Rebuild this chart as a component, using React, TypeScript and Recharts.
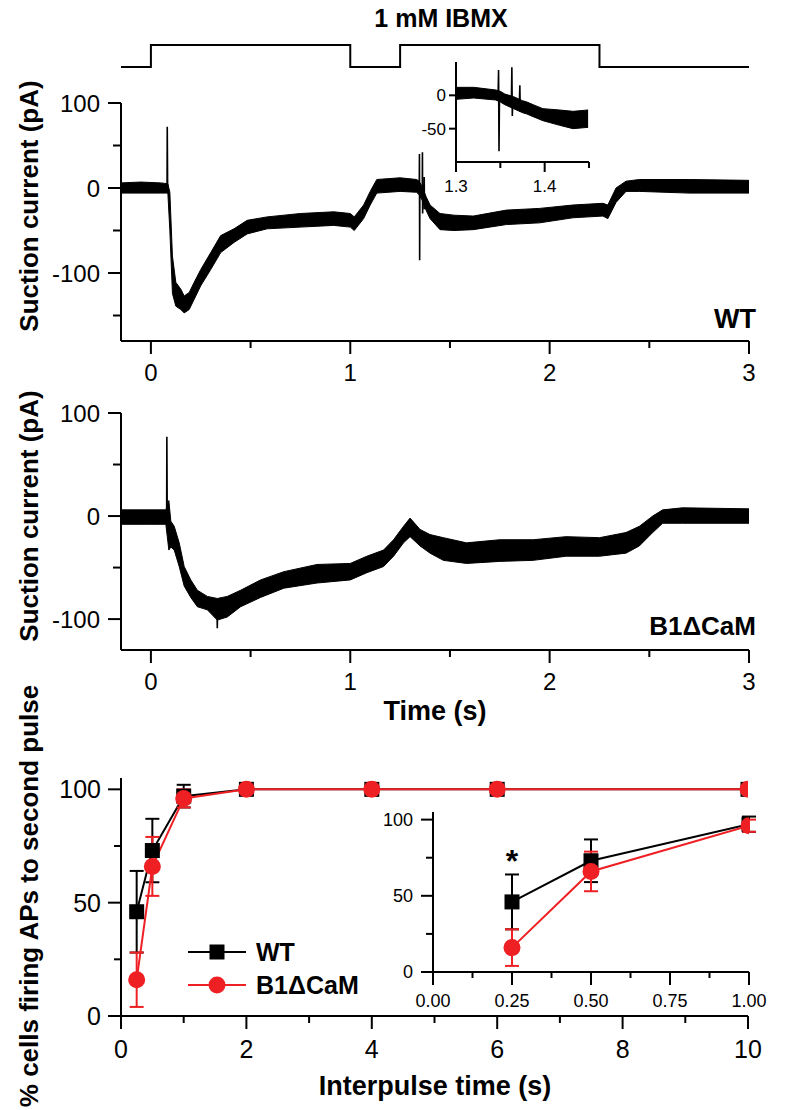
import React from 'react';
import {
  ComposedChart,
  LineChart,
  Line,
  Area,
  XAxis,
  YAxis,
  ErrorBar,
  ReferenceDot,
  Legend,
} from 'recharts';

const FONT = '"Liberation Sans", Arial, Helvetica, sans-serif';
const RED = '#ee2024';

// ---------- Stimulus (1 mM IBMX) ----------
const stimTime = [-0.15, 0, 1, 1.25, 2.25, 3];
const stimLevel = [0, 1, 0, 1, 0, 0];

// ---------- WT suction current (noise envelope) ----------
const wtTime = [-0.15, -0.05, 0.05, 0.085, 0.095, 0.108, 0.125, 0.15, 0.167, 0.192, 0.217, 0.25, 0.3, 0.35, 0.417, 0.483, 0.583, 0.75, 0.917, 1.0, 1.02, 1.067, 1.1, 1.133, 1.25, 1.333, 1.345, 1.36, 1.38, 1.4, 1.45, 1.52, 1.617, 1.783, 1.95, 2.117, 2.267, 2.292, 2.333, 2.383, 2.45, 2.7, 3.0];
const wtLow = [-6, -6, -6, -6, -50, -124, -139, -143, -147, -143, -131, -115, -96, -76, -64, -54, -48, -46, -44, -46, -50, -36, -20, -6, -4, -5, -8, -14, -26, -36, -49, -50, -49, -43, -41, -35, -33, -36, -17, -4, -4, -6, -6];
const wtHigh = [6, 7, 6, 5, -5, -80, -111, -119, -127, -123, -111, -96, -76, -56, -48, -38, -34, -30, -28, -30, -34, -20, -4, 10, 12, 10, 8, 2, -10, -20, -30, -32, -33, -26, -24, -20, -18, -20, 0, 8, 10, 10, 9];
// WT spikes (null separates spikes)
const wtSpikeTime = [0.081, 0.082, 0.084, 0.0845, 1.346, 1.347, 1.348, 1.349, 1.3495, 1.361, 1.362, 1.363, 1.364, 1.3645, 1.370, 1.371, 1.372, 1.373];
const wtSpikeValue = [0, 72, -5, null, 0, 40, -85, -5, null, -10, 42, -30, -12, null, -12, 13, -25, -15];

// ---------- WT inset (1.3 – 1.45 s) ----------
const insTime = [1.3, 1.32, 1.345, 1.35, 1.355, 1.365, 1.375, 1.38, 1.387, 1.398, 1.417, 1.432, 1.449];
const insLow = [-6, -4, -7, -10, -14, -20, -26, -28, -32, -38, -45, -50, -48];
const insHigh = [12, 12, 8, 6, 2, -2, -8, -10, -14, -20, -22, -24, -22];
const insSpikeTime = [1.3475, 1.348, 1.3485, 1.349, 1.3492, 1.3625, 1.363, 1.3635, 1.364, 1.3642, 1.3715, 1.372, 1.3725, 1.373];
const insSpikeValue = [0, 38, -84, -5, null, -8, 42, -31, -10, null, -12, 15, -25, -14];

// ---------- B1ΔCaM suction current ----------
const b1Time = [-0.15, 0.0, 0.075, 0.09, 0.1, 0.117, 0.142, 0.167, 0.2, 0.233, 0.283, 0.333, 0.383, 0.45, 0.55, 0.667, 0.833, 1.0, 1.083, 1.167, 1.217, 1.267, 1.3, 1.35, 1.4, 1.467, 1.583, 1.75, 1.917, 2.083, 2.25, 2.383, 2.45, 2.517, 2.567, 2.667, 3.0];
const b1Low = [-8, -8, -8, -33, -30, -33, -49, -68, -79, -88, -91, -101, -98, -88, -79, -70, -65, -62, -55, -49, -39, -26, -20, -29, -36, -43, -46, -44, -43, -39, -39, -36, -29, -16, -7, -7, -7];
const b1High = [6, 6, 6, 15, -5, -10, -26, -49, -62, -72, -78, -80, -78, -72, -62, -54, -47, -46, -39, -33, -23, -10, -2, -13, -18, -21, -26, -23, -23, -20, -21, -16, -10, 0, 6, 8, 7];
const b1SpikeTime = [0.079, 0.08, 0.082, 0.0825, 0.332, 0.333, 0.334];
const b1SpikeValue = [0, 77, -5, null, -95, -109, -95];

// ---------- % cells firing APs to second pulse ----------
const interpulse = [0.25, 0.5, 1, 2, 4, 6, 10];
const wtPct = [46, 73, 97, 100, 100, 100, 100];
const wtPctErr = [18, 14, 5, 0, 0, 0, 0];
const b1Pct = [16, 66, 96, 100, 100, 100, 100];
const b1PctErr = [12, 13, 4, 0, 0, 0, 0];

// ---------- tick values ----------
const traceXTicks = [0, 0.5, 1, 1.5, 2, 2.5, 3];
const traceXMajor = [0, 1, 2, 3];
const wtYTicks = [-150, -100, -50, 0, 50, 100];
const b1YTicks = [-100, -50, 0, 50, 100];
const traceYMajor = [-100, 0, 100];
const insXTicks = [1.3, 1.35, 1.4, 1.45];
const insXMajor = [1.3, 1.4];
const insYTicks = [-50, 0];
const pctXTicks = [0, 1, 2, 3, 4, 5, 6, 7, 8, 9, 10];
const pctXMajor = [0, 2, 4, 6, 8, 10];
const pctYTicks = [0, 25, 50, 75, 100];
const pctYMajor = [0, 50, 100];
const inset2XTicks = [0, 0.125, 0.25, 0.375, 0.5, 0.625, 0.75, 0.875, 1];
const inset2XMajor = [0, 0.25, 0.5, 0.75, 1];

// ---------- derived tables ----------
const stimData = stimTime.map((t, i) => ({ t, v: stimLevel[i] }));
const wtTrace = wtTime.map((t, i) => ({ t, range: [wtLow[i], wtHigh[i]] }));
const wtSpikes = wtSpikeTime.map((t, i) => ({ t, v: wtSpikeValue[i] }));
const insTrace = insTime.map((t, i) => ({ t, range: [insLow[i], insHigh[i]] }));
const insSpikes = insSpikeTime.map((t, i) => ({ t, v: insSpikeValue[i] }));
const b1Trace = b1Time.map((t, i) => ({ t, range: [b1Low[i], b1High[i]] }));
const b1Spikes = b1SpikeTime.map((t, i) => ({ t, v: b1SpikeValue[i] }));
const pctData = interpulse.map((x, i) => ({
  x,
  wt: wtPct[i],
  wtErr: wtPctErr[i],
  b1: b1Pct[i],
  b1Err: b1PctErr[i],
}));
const pctInsetData = pctData.filter((d) => d.x <= 1);

const isMajor = (list: number[], v: number) => list.some((m) => Math.abs(m - v) < 1e-9);

function xTick(majors: number[], fmt: (v: number) => string, majLen: number, minLen: number, fs: number, labelDy: number) {
  return (props: any) => {
    const { x, y, payload } = props;
    const v = payload.value;
    const maj = isMajor(majors, v);
    return (
      <g>
        <line x1={x} x2={x} y1={y} y2={y + (maj ? majLen : minLen)} stroke="#000" strokeWidth={2} />
        {maj ? (
          <text x={x} y={y + labelDy} textAnchor="middle" fontSize={fs} fontFamily={FONT} fill="#000">
            {fmt(v)}
          </text>
        ) : null}
      </g>
    );
  };
}

function yTick(majors: number[], majLen: number, minLen: number, fs: number, gap: number) {
  return (props: any) => {
    const { x, y, payload } = props;
    const v = payload.value;
    const maj = isMajor(majors, v);
    return (
      <g>
        <line x1={x - (maj ? majLen : minLen)} x2={x} y1={y} y2={y} stroke="#000" strokeWidth={2} />
        {maj ? (
          <text x={x - majLen - gap} y={y} dy="0.36em" textAnchor="end" fontSize={fs} fontFamily={FONT} fill="#000">
            {String(v)}
          </text>
        ) : null}
      </g>
    );
  };
}

const SquareDot = (props: any) => {
  const { cx, cy } = props;
  if (cx == null || cy == null) return <g />;
  return <rect x={cx - 7.5} y={cy - 7.5} width={15} height={15} fill="#000" />;
};
const CircleDot = (props: any) => {
  const { cx, cy } = props;
  if (cx == null || cy == null) return <g />;
  return <circle cx={cx} cy={cy} r={8.5} fill={RED} />;
};

const axisLine = { stroke: '#000', strokeWidth: 2 };

const renderLegend = () => (
  <svg width={200} height={70} style={{ overflow: 'visible' }}>
    <line x1={8} x2={66} y1={15} y2={15} stroke="#000" strokeWidth={2} />
    <rect x={29.5} y={7.5} width={15} height={15} fill="#000" />
    <text x={76} y={15} dy="0.36em" fontSize={25} fontWeight="bold" fontFamily={FONT} fill="#000">WT</text>
    <line x1={8} x2={66} y1={48} y2={48} stroke={RED} strokeWidth={2} />
    <circle cx={37} cy={48} r={8.5} fill={RED} />
    <text x={76} y={48} dy="0.36em" fontSize={25} fontWeight="bold" fontFamily={FONT} fill="#000">B1ΔCaM</text>
  </svg>
);

const fmtInt = (v: number) => String(v);
const fmt1 = (v: number) => v.toFixed(1);
const fmt2 = (v: number) => v.toFixed(2);

export default function App() {
  const abs = (left: number, top: number): React.CSSProperties => ({ position: 'absolute', left, top });
  return (
    <div style={{ position: 'absolute', left: 0, top: 0, width: 800, height: 1110, background: '#fff', fontFamily: FONT, overflow: 'hidden' }}>
      {/* Stimulus */}
      <div style={abs(0, 0)}>
        <LineChart width={800} height={90} data={stimData} margin={{ top: 45, right: 51, bottom: 23, left: 121 }}>
          <XAxis dataKey="t" type="number" domain={[-0.15, 3]} hide allowDataOverflow />
          <YAxis type="number" domain={[0, 1]} hide />
          <Line type="stepAfter" dataKey="v" stroke="#000" strokeWidth={2} dot={false} activeDot={false} isAnimationActive={false} />
        </LineChart>
      </div>

      {/* Panel 1: WT */}
      <div style={abs(0, 0)}>
        <ComposedChart width={800} height={400} margin={{ top: 103, right: 51, bottom: 19, left: 61 }}>
          <XAxis dataKey="t" type="number" domain={[-0.15, 3]} allowDataOverflow ticks={traceXTicks} interval={0}
            tickSize={0} tickMargin={0} tickLine={false} axisLine={axisLine} height={40}
            tick={xTick(traceXMajor, fmtInt, 13, 7, 24, 40)} />
          <YAxis type="number" domain={[-180, 100]} allowDataOverflow ticks={wtYTicks} interval={0}
            tickSize={0} tickMargin={0} tickLine={false} axisLine={axisLine} width={60}
            tick={yTick(traceYMajor, 13, 8, 24, 8)} />
          <Area data={wtTrace} type="linear" dataKey="range" stroke="#000" strokeWidth={1} fill="#000" fillOpacity={1} dot={false} activeDot={false} isAnimationActive={false} />
          <Line data={wtSpikes} type="linear" dataKey="v" stroke="#000" strokeWidth={1.6} dot={false} activeDot={false} connectNulls={false} isAnimationActive={false} />
        </ComposedChart>
      </div>

      {/* Panel 1 inset */}
      <div style={abs(400, 40)}>
        <ComposedChart width={200} height={160} margin={{ top: 22, right: 11, bottom: 8, left: 26 }}>
          <XAxis dataKey="t" type="number" domain={[1.3, 1.45]} allowDataOverflow ticks={insXTicks} interval={0}
            tickSize={0} tickMargin={0} tickLine={false} axisLine={axisLine} height={30}
            tick={xTick(insXMajor, fmt1, 10, 6, 17, 30)} />
          <YAxis type="number" domain={[-100, 50]} allowDataOverflow ticks={insYTicks} interval={0}
            tickSize={0} tickMargin={0} tickLine={false} axisLine={axisLine} width={30}
            tick={yTick(insYTicks, 7, 7, 17, 3)} />
          <Area data={insTrace} type="linear" dataKey="range" stroke="#000" strokeWidth={1} fill="#000" fillOpacity={1} dot={false} activeDot={false} isAnimationActive={false} />
          <Line data={insSpikes} type="linear" dataKey="v" stroke="#000" strokeWidth={1.6} dot={false} activeDot={false} connectNulls={false} isAnimationActive={false} />
        </ComposedChart>
      </div>

      {/* Panel 2: B1ΔCaM */}
      <div style={abs(0, 380)}>
        <ComposedChart width={800} height={360} margin={{ top: 33, right: 51, bottom: 50, left: 61 }}>
          <XAxis dataKey="t" type="number" domain={[-0.15, 3]} allowDataOverflow ticks={traceXTicks} interval={0}
            tickSize={0} tickMargin={0} tickLine={false} axisLine={axisLine} height={40}
            tick={xTick(traceXMajor, fmtInt, 13, 7, 24, 40)} />
          <YAxis type="number" domain={[-130, 100]} allowDataOverflow ticks={b1YTicks} interval={0}
            tickSize={0} tickMargin={0} tickLine={false} axisLine={axisLine} width={60}
            tick={yTick(traceYMajor, 13, 8, 24, 8)} />
          <Area data={b1Trace} type="linear" dataKey="range" stroke="#000" strokeWidth={1} fill="#000" fillOpacity={1} dot={false} activeDot={false} isAnimationActive={false} />
          <Line data={b1Spikes} type="linear" dataKey="v" stroke="#000" strokeWidth={1.6} dot={false} activeDot={false} connectNulls={false} isAnimationActive={false} />
        </ComposedChart>
      </div>

      {/* Panel 3: % cells firing */}
      <div style={abs(0, 740)}>
        <ComposedChart width={800} height={370} data={pctData} margin={{ top: 38, right: 52, bottom: 44, left: 61 }}>
          <XAxis dataKey="x" type="number" domain={[0, 10]} allowDataOverflow ticks={pctXTicks} interval={0}
            tickSize={0} tickMargin={0} tickLine={false} axisLine={axisLine} height={50}
            tick={xTick(pctXMajor, fmtInt, 13, 7, 25, 42)} />
          <YAxis type="number" domain={[0, 105]} allowDataOverflow ticks={pctYTicks} interval={0}
            tickSize={0} tickMargin={0} tickLine={false} axisLine={axisLine} width={60}
            tick={yTick(pctYMajor, 13, 7, 25, 7)} />
          <Line dataKey="wt" type="linear" stroke="#000" strokeWidth={2} dot={SquareDot} activeDot={false} isAnimationActive={false}>
            <ErrorBar dataKey="wtErr" direction="y" width={7} stroke="#000" strokeWidth={2} />
          </Line>
          <Line dataKey="b1" type="linear" stroke={RED} strokeWidth={2} dot={CircleDot} activeDot={false} isAnimationActive={false}>
            <ErrorBar dataKey="b1Err" direction="y" width={7} stroke={RED} strokeWidth={2} />
          </Line>
          <Legend layout="vertical" align="center" verticalAlign="middle" content={renderLegend}
            wrapperStyle={{ left: 180, top: 197, width: 200, height: 70 }} />
        </ComposedChart>
      </div>

      {/* Panel 3 inset */}
      <div style={abs(380, 780)}>
        <ComposedChart width={400} height={240} data={pctInsetData} margin={{ top: 32, right: 31, bottom: 8, left: 23 }}>
          <XAxis dataKey="x" type="number" domain={[0, 1]} allowDataOverflow ticks={inset2XTicks} interval={0}
            tickSize={0} tickMargin={0} tickLine={false} axisLine={axisLine} height={40}
            tick={xTick(inset2XMajor, fmt2, 13, 6, 18, 35)} />
          <YAxis type="number" domain={[0, 105]} allowDataOverflow ticks={pctYTicks} interval={0}
            tickSize={0} tickMargin={0} tickLine={false} axisLine={axisLine} width={30}
            tick={yTick(pctYMajor, 12, 7, 18, 8)} />
          <Line dataKey="wt" type="linear" stroke="#000" strokeWidth={2} dot={SquareDot} activeDot={false} isAnimationActive={false}>
            <ErrorBar dataKey="wtErr" direction="y" width={7} stroke="#000" strokeWidth={2} />
          </Line>
          <Line dataKey="b1" type="linear" stroke={RED} strokeWidth={2} dot={CircleDot} activeDot={false} isAnimationActive={false}>
            <ErrorBar dataKey="b1Err" direction="y" width={7} stroke={RED} strokeWidth={2} />
          </Line>
          <ReferenceDot x={0.25} y={73} r={0} fill="none" stroke="none"
            label={{ value: '*', position: 'center', fontSize: 32, fontWeight: 'bold', fill: '#000', fontFamily: FONT }} />
        </ComposedChart>
      </div>

      {/* Titles and panel labels */}
      <svg width={800} height={1110} style={{ position: 'absolute', left: 0, top: 0, pointerEvents: 'none' }} fontFamily={FONT}>
        <text x={441} y={27} textAnchor="middle" fontSize={25} fontWeight="bold" fill="#000">1 mM IBMX</text>
        <text x={756} y={328} textAnchor="end" fontSize={27} fontWeight="bold" fill="#000">WT</text>
        <text x={756} y={635} textAnchor="end" fontSize={26} fontWeight="bold" fill="#000">B1ΔCaM</text>
        <text x={435} y={720} textAnchor="middle" fontSize={27} fontWeight="bold" fill="#000">Time (s)</text>
        <text x={435} y={1095} textAnchor="middle" fontSize={27} fontWeight="bold" fill="#000">Interpulse time (s)</text>
        <text transform="translate(38,206) rotate(-90)" textAnchor="middle" fontSize={26} fontWeight="bold" fill="#000">Suction current (pA)</text>
        <text transform="translate(38,516) rotate(-90)" textAnchor="middle" fontSize={26} fontWeight="bold" fill="#000">Suction current (pA)</text>
        <text transform="translate(38,896) rotate(-90)" textAnchor="middle" fontSize={26} fontWeight="bold" fill="#000">% cells firing APs to second pulse</text>
      </svg>
    </div>
  );
}
